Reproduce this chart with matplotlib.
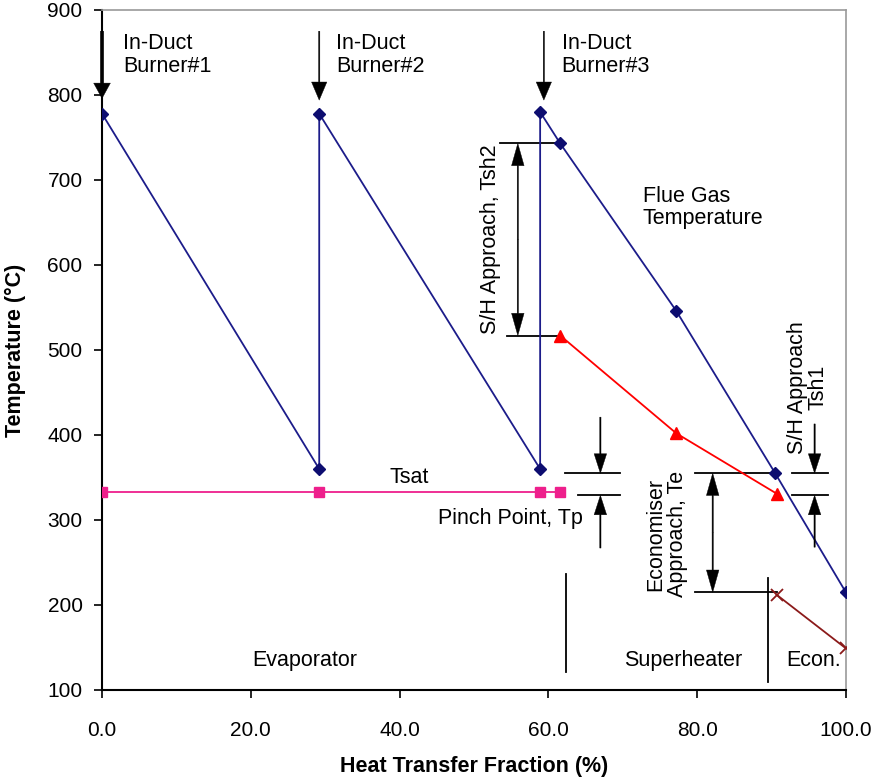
import matplotlib
matplotlib.use("Agg")
import matplotlib.pyplot as plt
from matplotlib import font_manager

# ---- data ----
flue_x = [0.0, 29.2, 29.2, 58.9, 58.9, 61.6, 77.2, 90.5, 100.0]
flue_y = [778, 360, 778, 360, 780, 743, 546, 355, 215]
tsat_x = [0.0, 29.2, 58.9, 61.6]
tsat_y = [333, 333, 333, 333]
steam_x = [61.6, 77.2, 90.7]
steam_y = [517, 402, 331]
water_x = [90.7, 100.0]
water_y = [212, 149]
xticks = [0, 20, 40, 60, 80, 100]
xtick_labels = ["0.0", "20.0", "40.0", "60.0", "80.0", "100.0"]
yticks = [100, 200, 300, 400, 500, 600, 700, 800, 900]

avail = {f.name for f in font_manager.fontManager.ttflist}
base = "Liberation Sans" if "Liberation Sans" in avail else "DejaVu Sans"
plt.rcParams["font.family"] = [base, "DejaVu Sans"]

fig = plt.figure(figsize=(8.72, 7.8), dpi=100)
ax = fig.add_axes([0.117, 0.1154, 0.853, 0.8718])
ax.set_xlim(0, 100)
ax.set_ylim(100, 900)

navy = "#1c1c8a"
ax.plot(flue_x, flue_y, color=navy, lw=1.3, marker="D", ms=6.5, mfc="#0d0d70", mec="#0d0d70", zorder=3)
ax.plot(tsat_x, tsat_y, color="#ee1f8c", lw=1.3, marker="s", ms=7, zorder=3)
ax.plot(steam_x, steam_y, color="#ff0000", lw=1.3, marker="^", ms=8, zorder=3)
ax.plot(water_x, water_y, color="#8b1a1a", lw=1.3, marker="x", ms=8, mew=1.3, zorder=3)

ax.set_xticks(xticks)
ax.set_xticklabels(xtick_labels, fontsize=15)
ax.set_yticks(yticks)
ax.tick_params(axis="y", labelsize=15, direction="out", length=6, width=1.2, pad=8)
ax.tick_params(axis="x", direction="out", length=6, width=1.2, pad=16)
for s in ["left", "bottom"]:
    ax.spines[s].set_color("black")
    ax.spines[s].set_linewidth(1.5)
for s in ["top", "right"]:
    ax.spines[s].set_color("#999999")
    ax.spines[s].set_linewidth(1.2)

ax.set_xlabel("Heat Transfer Fraction (%)", fontsize=15.5, fontweight="bold", va="center")
ax.xaxis.set_label_coords(0.5, -0.113)
ax.set_ylabel("Temperature (°C)", fontsize=15.5, fontweight="bold", va="center")
ax.yaxis.set_label_coords(-0.117, 0.5)

fs = 15.5


def arrow(x, y_from, y_to, width=0.9, hw=9, hl=15):
    ax.annotate("", xy=(x, y_to), xytext=(x, y_from),
                arrowprops=dict(width=width, headwidth=hw, headlength=hl, fc="black", ec="black",
                                lw=0.3, shrink=0.0),
                annotation_clip=False)


# burners
burner_x = [0.0, 29.2, 59.4]
burner_lbl = ["In-Duct\nBurner#1", "In-Duct\nBurner#2", "In-Duct\nBurner#3"]
burner_txt_x = [2.8, 31.5, 61.8]
for i in range(3):
    if i == 0:
        arrow(burner_x[i], 875, 796, width=2.4, hw=12, hl=11)
    else:
        arrow(burner_x[i], 875, 794, width=0.9, hw=11, hl=13)
    ax.text(burner_txt_x[i], 873, burner_lbl[i], fontsize=fs, va="top", ha="left", linespacing=1.12)

lk = dict(color="black", lw=1.3)
# S/H approach Tsh2
ax.plot([53.5, 61.6], [743, 743], **lk)
ax.plot([54.5, 61.6], [517, 517], **lk)
arrow(55.9, 630, 743, hl=16)
arrow(55.9, 630, 517, hl=16)
ax.text(52.2, 630, "S/H Approach, Tsh2", rotation=90, fontsize=fs, ha="center", va="center")

# pinch point
ax.plot([62.3, 69.6], [355, 355], **lk)
ax.plot([64.0, 69.6], [329, 329], **lk)
arrow(67.0, 421, 355, hl=14)
arrow(67.0, 267, 329, hl=14)
ax.text(64.6, 302, "Pinch Point, Tp", fontsize=fs, ha="right", va="center")

# economiser approach
ax.plot([79.7, 90.5], [355, 355], **lk)
ax.plot([79.7, 90.7], [215, 215], **lk)
arrow(82.1, 285, 355, hl=16)
arrow(82.1, 285, 215, hl=16)
ax.text(75.9, 283, "Economiser\nApproach, Te", rotation=90, fontsize=fs, ha="center", va="center",
        linespacing=1.0)

# S/H approach Tsh1
ax.plot([92.7, 97.6], [355, 355], **lk)
ax.plot([92.7, 97.6], [329, 329], **lk)
arrow(95.8, 413, 355, hl=14)
arrow(95.8, 268, 329, hl=14)
ax.text(94.9, 456, "S/H Approach\nTsh1", rotation=90, fontsize=fs, ha="center", va="center",
        linespacing=1.0)

# section separators
ax.plot([62.4, 62.4], [236, 121], **lk)
ax.plot([89.5, 89.5], [232, 109], **lk)

ax.text(27.3, 135, "Evaporator", fontsize=fs, ha="center", va="center")
ax.text(78.1, 135, "Superheater", fontsize=fs, ha="center", va="center")
ax.text(95.7, 135, "Econ.", fontsize=fs, ha="center", va="center")
ax.text(41.3, 350, "Tsat", fontsize=fs, ha="center", va="center")
ax.text(72.7, 668, "Flue Gas\nTemperature", fontsize=fs, ha="left", va="center", linespacing=1.05)

fig.savefig("out.png", dpi=100)
